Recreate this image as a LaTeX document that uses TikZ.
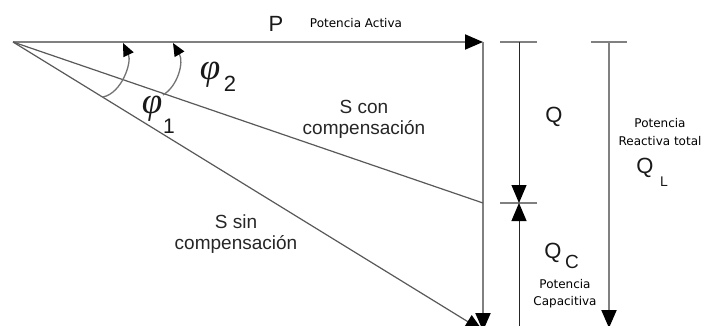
\documentclass[tikz,border=0pt]{standalone}
\usepackage{fontspec}
\setmainfont{Liberation Sans}
\newfontfamily\smallf{DejaVu Sans}
\newfontfamily\grk{Liberation Serif}
\usetikzlibrary{arrows.meta}
\begin{document}
\begin{tikzpicture}[x=1pt,y=-1pt,
  tip/.style={-{Triangle[length=18pt,width=15pt,color=black]}},
  smalltip/.style={-{Triangle[length=13pt,width=11pt,color=black]}},
  vec/.style={draw=black!50, line width=2pt},
  diag/.style={draw=black!65, line width=1.2pt},
  arcl/.style={draw=black!55, line width=1.3pt},
  thin/.style={draw=black!85, line width=1pt},
  big/.style={inner sep=0pt, font=\fontsize{22}{22}\selectfont, text=black!90},
  mid/.style={inner sep=0pt, font=\fontsize{19}{21}\selectfont, text=black!85, align=center},
  sub/.style={inner sep=0pt, font=\fontsize{19}{19}\selectfont, text=black!90},
  tiny/.style={inner sep=0pt, font=\smallf\fontsize{12}{18}\selectfont, text=black, align=center},
  phi/.style={inner sep=0pt, font=\grk\itshape\fontsize{37}{37}\selectfont, text=black!90}]
\useasboundingbox (0,0) rectangle (707,326);
\clip (0,0) rectangle (707,326);
\fill[white] (0,0) rectangle (707,326);
% main points
\coordinate (O) at (13,42);
\coordinate (P) at (483,42);
\coordinate (S2) at (483,203);
\coordinate (B) at (483,331);
% Q dimension points
\coordinate (Qt) at (519,42);
\coordinate (Qm) at (519,203);
\coordinate (Qb) at (519,345);
\coordinate (Lt) at (609,42);
\coordinate (Lb) at (609,328);
% vectors
\draw[vec,tip] (O) -- (P);
\draw[vec,tip] (P) -- (B);
\draw[diag] (O) -- (S2);
\draw[diag,tip] (O) -- (B);
% ticks
\draw[vec] (500,42) -- (537,42);
\draw[draw=black!50, line width=1.2pt] (500,203) -- (537,203);
\draw[vec] (591,42) -- (627,42);
% Q arrows
\draw[thin,tip] (Qt) -- (Qm);
\draw[thin,tip] (Qb) -- (Qm);
\draw[vec,tip] (Lt) -- (Lb);
% angle arcs
\coordinate (a1s) at (103,97);
\coordinate (a1e) at (123,43);
\coordinate (a2s) at (163,95);
\coordinate (a2e) at (173,43);
\draw[arcl,smalltip] (a1s) .. controls (122,93) and (132,62) .. (a1e);
\draw[arcl,smalltip] (a2s) .. controls (178,86) and (184,62) .. (a2e);
% labels
\node[big] (lP) at (276,24) {P};
\node[tiny] (lPA) at (356,23) {Potencia Activa};
\node[mid] (lScon) at (364,119) {S con\\compensación};
\node[mid] (lSsin) at (236,234) {S sin\\compensación};
\node[big] (lQ) at (554,117) {Q};
\node[tiny] (lQLt) at (660,132) {Potencia\\Reactiva total};
\node[big] (lQL) at (645,168) {Q};
\node[inner sep=0pt, font=\fontsize{14}{14}\selectfont, text=black!90] (lL) at (664,182) {L};
\node[big] (lQC) at (553,253) {Q};
\node[sub] (lC) at (572,262) {C};
\node[tiny,font=\smallf\fontsize{12}{17}\selectfont] (lQCt) at (565,294) {Potencia\\Capacitiva};
\node[phi] (f2) at (210,75) {φ};
\node[sub,font=\fontsize{22}{22}\selectfont] (s2) at (230,84) {2};
\node[phi] (f1) at (152,109) {φ};
\node[sub,font=\fontsize{21}{21}\selectfont] (s1) at (169,126) {1};
\end{tikzpicture}
\end{document}
